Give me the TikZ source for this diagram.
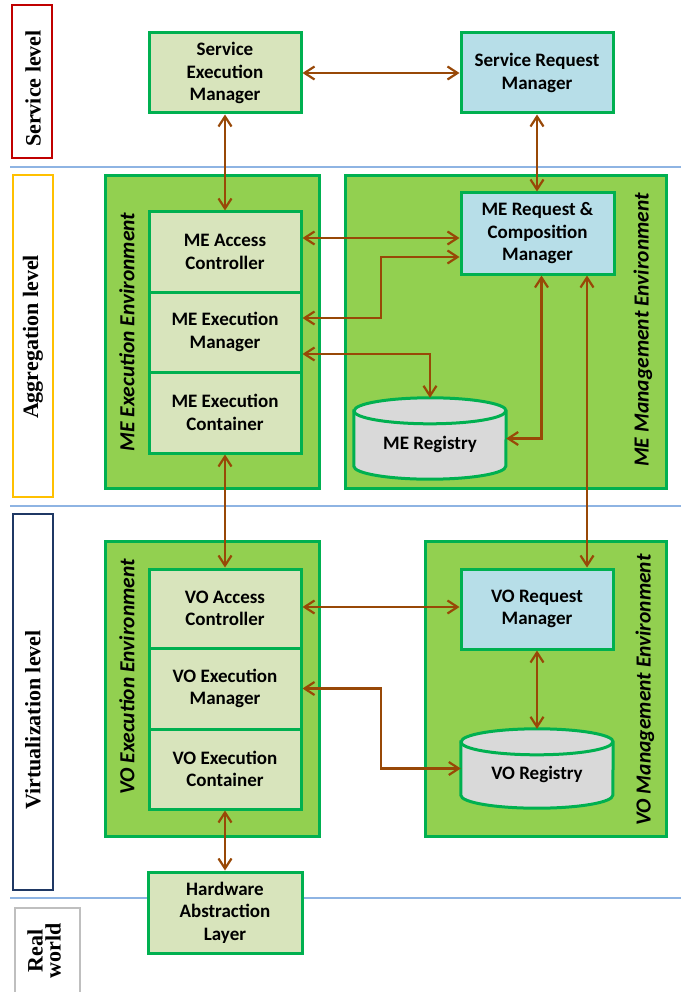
\documentclass[tikz,border=0pt]{standalone}
\usepackage{fontspec}
\setmainfont{Carlito}
\newfontfamily\timesfont{Liberation Serif}
\usetikzlibrary{arrows.meta}
\definecolor{envfill}{HTML}{92D050}
\definecolor{envdraw}{HTML}{00B050}
\definecolor{olivefill}{HTML}{D8E4BC}
\definecolor{bluefill}{HTML}{B7DEE8}
\definecolor{cylfill}{HTML}{D9D9D9}
\definecolor{arrcol}{HTML}{984807}
\definecolor{sepline}{HTML}{8EB4E3}
\definecolor{lvlred}{HTML}{C00000}
\definecolor{lvlyellow}{HTML}{FFC000}
\definecolor{lvlnavy}{HTML}{1F3864}
\definecolor{lvlgray}{HTML}{BFBFBF}
\newcommand{\mycyl}[1]{%
  \path[fill=cylfill, draw=envdraw, line width=3pt]
    ([yshift=-13pt]#1.north west) -- ([yshift=13pt]#1.south west)
    arc[start angle=180, end angle=360, x radius=76pt, y radius=13pt]
    -- ([yshift=-13pt]#1.north east)
    arc[start angle=0, end angle=180, x radius=76pt, y radius=13pt] -- cycle;
  \draw[draw=envdraw, line width=3pt] ([yshift=-13pt]#1.north west)
    arc[start angle=180, end angle=360, x radius=76pt, y radius=13pt];
}
\begin{document}
\begin{tikzpicture}[x=1pt, y=-1pt,
  box/.style={draw=envdraw, line width=3pt, align=center, inner sep=0pt,
    font=\fontsize{19}{22.5}\selectfont\bfseries, minimum width=152pt, minimum height=80pt},
  olive/.style={box, fill=olivefill},
  bluebox/.style={box, fill=bluefill},
  env/.style={draw=envdraw, fill=envfill, line width=3pt, inner sep=0pt},
  envlabel/.style={rotate=90, inner sep=0pt, font=\fontsize{21.5}{22}\selectfont\bfseries\itshape},
  cylnode/.style={inner sep=0pt, minimum width=152pt},
  cyltext/.style={inner sep=0pt, font=\fontsize{19}{22}\selectfont\bfseries},
  lvlbox/.style={fill=white, line width=2.2pt, inner sep=0pt},
  lvltext/.style={rotate=90, inner sep=0pt, align=center,
    font=\timesfont\bfseries\fontsize{22}{18}\selectfont},
  sep/.style={draw=sepline, line width=1.4pt},
  arr/.style={draw=arrcol, line width=2.2pt,
    {Straight Barb[length=10pt,width=13pt]}-{Straight Barb[length=10pt,width=13pt]}}
]
\useasboundingbox (0,0) rectangle (683,992);

% separator lines
\draw[sep] (10,167) -- (681,167);
\draw[sep] (10,506) -- (681,506);
\draw[sep] (10,898) -- (681,898);

% level boxes
\node[lvlbox, draw=lvlred, minimum width=40pt, minimum height=153pt] (lsvc) at (32,81.5) {};
\node[lvltext] at (33,88.5) {Service level};
\node[lvlbox, draw=lvlyellow, minimum width=40pt, minimum height=322pt] (lagg) at (33,336) {};
\node[lvltext] at (33,337) {Aggregation level};
\node[lvlbox, draw=lvlnavy, minimum width=40pt, minimum height=376pt] (lvirt) at (33,702) {};
\node[lvltext] at (33,720) {Virtualization level};
\node[lvlbox, draw=lvlgray, minimum width=65pt, minimum height=100pt] (lreal) at (47.5,958) {};
\node[lvltext] at (44,951) {Real\\world};

% environments
\node[env, minimum width=214pt, minimum height=312pt] (meexe) at (212,332) {};
\node[env, minimum width=321pt, minimum height=312pt] (memgt) at (505.5,332) {};
\node[env, minimum width=214pt, minimum height=295pt] (voexe) at (212,688.5) {};
\node[env, minimum width=241pt, minimum height=295pt] (vomgt) at (545.5,688.5) {};
\node[envlabel] at (127,332) {ME Execution Environment};
\node[envlabel] at (643,330) {ME Management Environment};
\node[envlabel] at (127,677) {VO Execution Environment};
\node[envlabel] at (645,690) {VO Management Environment};

% service level
\node[olive] (sem) at (225,73) {Service\\Execution\\Manager};
\node[bluebox] (srm) at (537,73) {Service Request\\Manager};

% aggregation level
\node[olive] (meac) at (225,252) {ME Access\\Controller};
\node[olive] (meem) at (225,332) {ME Execution\\Manager};
\node[olive, minimum height=81pt] (meec) at (225,412.5) {ME Execution\\Container};
\node[bluebox, minimum width=153pt, minimum height=81pt] (mercm) at (537.5,233.5) {ME Request \&\\Composition\\Manager};
\node[cylnode, minimum height=81pt] (merg) at (430,438.5) {};
\mycyl{merg}
\node[cyltext] at ([yshift=-6pt]merg.center) {ME Registry};

% virtualization level
\node[olive, minimum height=79pt] (voac) at (225,608.5) {VO Access\\Controller};
\node[olive, minimum height=81pt] (voem) at (225,688.5) {VO Execution\\Manager};
\node[olive] (voec) at (225,769) {VO Execution\\Container};
\node[bluebox] (vorm) at (537,609) {VO Request\\Manager};
\node[cylnode, minimum height=79pt] (vorg) at (537,768.5) {};
\mycyl{vorg}
\node[cyltext] at ([yshift=-6pt]vorg.center) {VO Registry};

% real world
\node[olive, minimum width=154pt, minimum height=81pt] (hal) at (225,912.5) {Hardware\\Abstraction\\Layer};

% connectors
\coordinate (j5) at (381,300);
\coordinate (a4) at ([yshift=14pt]meac.east);
\coordinate (a5) at ([yshift=14pt]meem.east);
\coordinate (b5) at ([yshift=-23.5pt]mercm.west);
\coordinate (a6) at ([yshift=-22pt]meem.east);
\coordinate (c7) at ([xshift=4pt]mercm.south);
\coordinate (c8) at ([xshift=49.5pt]mercm.south);
\coordinate (a10) at ([yshift=1.5pt]voac.east);

\draw[arr] (sem.east) -- (srm.west);
\draw[arr] (sem.south) -- (meac.north);
\draw[arr] (srm.south) -- (srm.south |- mercm.north);
\draw[arr] (a4) -- (a4 -| mercm.west);
\draw[arr] (a5) -- (a5 -| j5) |- (b5);
\draw[arr] (a6) -| (merg.north);
\draw[arr] (merg.east) -| (c7);
\draw[arr] (c8) -- (c8 |- vorm.north);
\draw[arr] (meec.south) -- (voac.north);
\draw[arr] (a10) -- (a10 -| vorm.west);
\draw[arr] (voem.east) -- (voem.east -| j5) |- (vorg.west);
\draw[arr] (vorm.south) -- (vorg.north);
\draw[arr] (voec.south) -- (hal.north);
\end{tikzpicture}
\end{document}
